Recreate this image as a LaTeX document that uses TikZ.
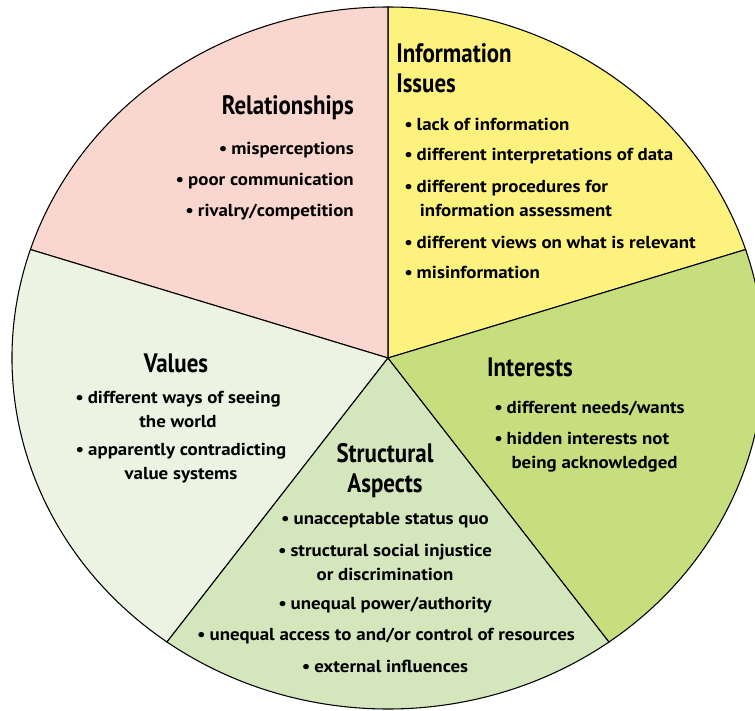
\documentclass[tikz,border=0pt]{standalone}
\usepackage{fontspec}
\setmainfont{PT Sans}
\newfontfamily\headfont[FakeStretch=0.86]{PT Sans}
\newfontfamily\bodyfont[FakeStretch=1.09]{PT Sans}
\usetikzlibrary{positioning}
\definecolor{relpink}{RGB}{250,215,206}
\definecolor{infoyellow}{RGB}{253,242,125}
\definecolor{intgreen}{RGB}{199,222,126}
\definecolor{strucgreen}{RGB}{212,230,188}
\definecolor{valgreen}{RGB}{236,243,227}
\newcommand{\bul}{\makebox[0.72em][l]{\textbullet}}

\begin{document}
\begin{tikzpicture}[x=0.75pt, y=0.75pt,
	head/.style={font=\headfont\bfseries\fontsize{20}{22.5}\selectfont, inner sep=0pt},
	item/.style={font=\bodyfont\bfseries\fontsize{13}{18}\selectfont, inner sep=0pt}]

\useasboundingbox (-388,-352) rectangle (367,358);

%---------SLICES-----------%
\begin{scope}
\clip (-388,-352) rectangle (367,358);
\foreach \a/\b/\c in {18/90/infoyellow, 90/162/relpink, 162/234/valgreen, 234/306/strucgreen, 306/378/intgreen}{
	\draw [fill=\c, line width=0.8pt] (0,0) -- (\a:376 and 351)
	  arc [start angle=\a, end angle=\b, x radius=376, y radius=351] -- cycle;
};
\end{scope}

%---------RELATIONSHIPS-----------%
\node [head, anchor=east] (rel) at (-34,250) {Relationships};
\node [item, anchor=east] (rel1) at (-34,208) {\bul misperceptions};
\node [item, anchor=east] (rel2) at (-34,177) {\bul poor communication};
\node [item, anchor=east] (rel3) at (-34,146) {\bul rivalry/competition};

%---------INFORMATION-----------%
\node [head, anchor=west, align=left] (info) at (8,290) {Information\\Issues};
\node [item, anchor=west] (info1) at (16,234) {\bul lack of information};
\node [item, anchor=west] (info2) at (16,202) {\bul different interpretations of data};
\node [item, anchor=west, align=left] (info3) at (16,159.5) {\bul different procedures for\\\hspace*{0.9em}information assessment};
\node [item, anchor=west] (info4) at (16,116) {\bul different views on what is relevant};
\node [item, anchor=west] (info5) at (16,86) {\bul misinformation};

%---------INTERESTS-----------%
\node [head] (int) at (142,-9) {Interests};
\node [item, anchor=west] (int1) at (106,-51) {\bul different needs/wants};
\node [item, anchor=west, align=left] (int2) at (106,-94) {\bul hidden interests not\\\hspace*{1em}being acknowledged};

%---------VALUES-----------%
\node [head] (val) at (-212,-5) {Values};
\node [item, align=center] (val1) at (-210,-51) {\bul different ways of seeing\\the world};
\node [item, align=center] (val2) at (-207,-105) {\bul apparently contradicting\\value systems};

%---------STRUCTURAL-----------%
\node [head, align=center] (struc) at (-3,-112.5) {Structural\\Aspects};
\node [item] (struc1) at (-3,-162) {\bul unacceptable status quo};
\node [item, align=center] (struc2) at (-3,-204.5) {\bul structural social injustice\\or discrimination};
\node [item] (struc3) at (-3,-247) {\bul unequal power/authority};
\node [item] (struc4) at (-2,-278) {\bul unequal access to and/or control of resources};
\node [item] (struc5) at (-3,-308) {\bul external influences};

\end{tikzpicture}
\end{document}
